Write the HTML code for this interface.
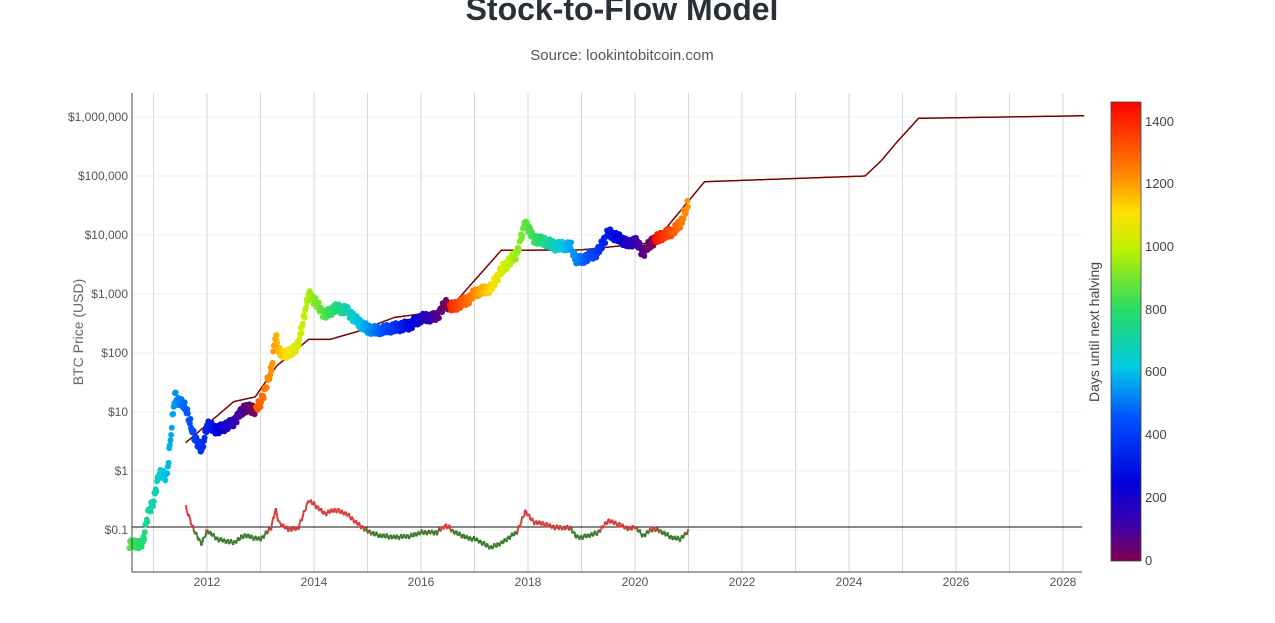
<!DOCTYPE html>
<html><head><meta charset="utf-8">
<style>
body{margin:0;width:1275px;height:618px;background:#fff;overflow:hidden;font-family:"Liberation Sans",sans-serif}
</style></head><body>
<svg id="s" width="1275" height="618" xmlns="http://www.w3.org/2000/svg" font-family="Liberation Sans, sans-serif">
<text x="622" y="20" text-anchor="middle" font-size="32" font-weight="bold" fill="#2a3039">Stock-to-Flow Model</text>
<text x="622" y="60" text-anchor="middle" font-size="15" fill="#555">Source: lookintobitcoin.com</text>
<g id="grid"></g>
<g id="data"></g>
<line x1="132" y1="93" x2="132" y2="572" stroke="#444"/>
<line x1="132" y1="572" x2="1082" y2="572" stroke="#444"/>
<text transform="translate(83,332) rotate(-90)" text-anchor="middle" font-size="14" fill="#666">BTC Price (USD)</text>
<defs><linearGradient id="cb" x1="0" y1="1" x2="0" y2="0">
<stop offset="0" stop-color="#800050"/><stop offset="0.08" stop-color="#3c00aa"/><stop offset="0.17" stop-color="#0000dc"/><stop offset="0.31" stop-color="#0050ff"/><stop offset="0.42" stop-color="#00c8e6"/><stop offset="0.55" stop-color="#28dc64"/><stop offset="0.68" stop-color="#c0f000"/><stop offset="0.76" stop-color="#ffe000"/><stop offset="0.85" stop-color="#ff8000"/><stop offset="1" stop-color="#ff0000"/></linearGradient></defs>
<rect x="1111" y="102" width="30" height="459" fill="url(#cb)" stroke="#444" stroke-width="0.8"/>
<g font-size="13" fill="#444">
<text x="1145" y="565">0</text><text x="1145" y="502">200</text><text x="1145" y="439">400</text><text x="1145" y="376">600</text><text x="1145" y="314">800</text><text x="1145" y="251">1000</text><text x="1145" y="188">1200</text><text x="1145" y="126">1400</text></g>
<text transform="translate(1099,332) rotate(-90)" text-anchor="middle" font-size="14" fill="#444">Days until next halving</text>
</svg>
<script>
var NS="http://www.w3.org/2000/svg";
function X(t){return 207+(t-2012)*53.5}
function Y(v){return 117+(6-Math.log10(v))*59}
function el(p,n,a){var e=document.createElementNS(NS,n);for(var k in a)e.setAttribute(k,a[k]);p.appendChild(e);return e}
var g=document.getElementById('grid');
for(var yr=2011;yr<=2028;yr++){el(g,'line',{x1:X(yr),x2:X(yr),y1:93,y2:572,stroke:'#d6d6d6'});}
for(var yr=2012;yr<=2028;yr+=2){var t=el(g,'text',{x:X(yr),y:586,'text-anchor':'middle','font-size':12,fill:'#555'});t.textContent=yr;}
var labs=['$1,000,000','$100,000','$10,000','$1,000','$100','$10','$1','$0.1'];
for(var i=0;i<8;i++){var y=117+i*59;el(g,'line',{x1:132,x2:1082,y1:y,y2:y,stroke:'#eee'});var t=el(g,'text',{x:128,y:y+4,'text-anchor':'end','font-size':12,fill:'#555'});t.textContent=labs[i];}
var P=[[2010.55,0.06],[2010.8,0.06],[2010.9,0.2],[2011.0,0.3],[2011.1,0.9],[2011.25,0.8],[2011.4,20],[2011.45,15],[2011.6,12],[2011.75,4],[2011.9,2.2],[2012.0,6],[2012.2,5],[2012.5,7],[2012.7,12],[2012.9,11],[2013.0,14],[2013.2,50],[2013.28,200],[2013.35,100],[2013.5,90],[2013.7,130],[2013.9,1000],[2014.0,800],[2014.2,450],[2014.4,600],[2014.6,550],[2014.8,350],[2015.0,250],[2015.2,230],[2015.5,260],[2015.8,300],[2016.0,400],[2016.3,430],[2016.45,700],[2016.6,600],[2016.9,800],[2017.0,1000],[2017.3,1200],[2017.5,2500],[2017.8,5000],[2017.95,17000],[2018.1,9000],[2018.3,8000],[2018.5,6500],[2018.8,6300],[2018.9,3700],[2019.0,3600],[2019.3,5000],[2019.5,11000],[2019.7,9000],[2019.9,7200],[2020.0,8500],[2020.15,5000],[2020.3,7500],[2020.5,9500],[2020.7,11000],[2020.85,15000],[2021.0,35000]];
var M=[[2011.6,3],[2012.5,15],[2012.9,18],[2013.3,60],[2013.9,170],[2014.3,170],[2014.8,230],[2015.5,400],[2016.3,500],[2016.53,560],[2017.5,5500],[2019.0,5600],[2020.36,7500],[2021.3,80000],[2024.3,100000],[2024.6,180000],[2024.9,380000],[2025.3,950000],[2028.4,1050000]];
function interp(A,t){for(var i=0;i<A.length-1;i++){if(t>=A[i][0]&&t<=A[i+1][0]){var f=(t-A[i][0])/(A[i+1][0]-A[i][0]);return Math.pow(10,Math.log10(A[i][1])*(1-f)+Math.log10(A[i+1][1])*f);}}return null}
var H=[2012.91,2016.53,2020.36,2024.3];
function days(t){for(var i=0;i<H.length;i++)if(t<H[i])return(H[i]-t)*365;return 0}
var stops=[[0,[128,0,80]],[120,[60,0,170]],[250,[0,0,220]],[450,[0,80,255]],[620,[0,200,230]],[800,[40,220,100]],[990,[192,240,0]],[1110,[255,224,0]],[1240,[255,128,0]],[1460,[255,0,0]]];
function col(d){d=Math.min(1460,Math.max(0,d));for(var i=0;i<stops.length-1;i++){if(d<=stops[i+1][0]){var f=(d-stops[i][0])/(stops[i+1][0]-stops[i][0]);var c=stops[i][1].map(function(v,j){return Math.round(v*(1-f)+stops[i+1][1][j]*f)});return'rgb('+c+')';}}return'red'}
var d=document.getElementById('data');
el(d,'line',{x1:132,x2:1082,y1:527,y2:527,stroke:'#111','stroke-width':1});
var pts=[];for(var t=2011.6;t<=2028.4;t+=0.02){var v=interp(M,t);if(v)pts.push(X(t).toFixed(1)+','+Y(v).toFixed(1));}
el(d,'polyline',{points:pts.join(' '),fill:'none',stroke:'#7a0000','stroke-width':1.5});
var prev=null;
for(var t=2011.6;t<=2021.0;t+=0.01){var p=interp(P,t),m=interp(M,t);if(!p||!m)continue;
 var n=(Math.sin(t*97)*0.08+Math.sin(t*231)*0.05);var r=Math.pow(10,Math.log10(p/m)*0.65+n*0.4)*0.1;
 var cur=[X(t),Y(r)];if(prev)el(d,'line',{x1:prev[0],y1:prev[1],x2:cur[0],y2:cur[1],stroke:r>0.1?'#d83a3a':'#3a7a2a','stroke-width':2});prev=cur;}
for(var t=2010.55;t<=2021.0;t+=0.012){var p=interp(P,t);if(!p)continue;var n=Math.sin(t*113)*0.05+Math.sin(t*301)*0.04;
 el(d,'circle',{cx:X(t),cy:Y(p)-n*59,r:3,fill:col(days(t))});}
</script>
</body></html>
